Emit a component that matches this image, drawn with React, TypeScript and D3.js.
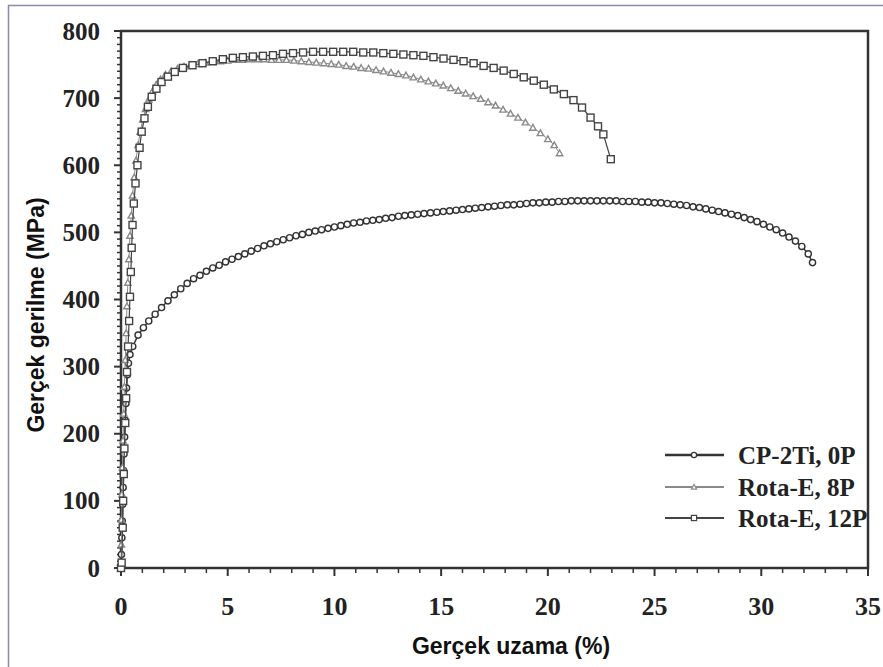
import { useEffect, useRef } from "react";
import * as d3 from "d3";

// [uzama %, gerilme MPa], one pair per marker
const cp2ti0P: [number, number][] = [
  [0, 0], [0.02, 20], [0.04, 45], [0.06, 70], [0.08, 95], [0.1, 120], [0.12, 145], [0.14, 170],
  [0.17, 195], [0.2, 220], [0.23, 245], [0.26, 268], [0.3, 288], [0.35, 305], [0.42, 318],
  [0.55, 330], [0.8, 347], [1.05, 358], [1.3, 368], [1.6, 378], [1.9, 388], [2.2, 398], [2.5, 407],
  [2.8, 416], [3.1, 424], [3.4, 431], [3.7, 436], [4.0, 442], [4.3, 447], [4.6, 451], [4.9, 456],
  [5.2, 460], [5.5, 464], [5.8, 468], [6.1, 472], [6.4, 476], [6.7, 480], [7.0, 483], [7.3, 486],
  [7.6, 489], [7.9, 492], [8.2, 495], [8.5, 497], [8.8, 500], [9.1, 502], [9.4, 504], [9.7, 506],
  [10.0, 508], [10.3, 510], [10.6, 512], [10.9, 514], [11.2, 515], [11.5, 517], [11.8, 518],
  [12.1, 519], [12.4, 521], [12.7, 522], [13.0, 524], [13.3, 525], [13.6, 526], [13.9, 527],
  [14.2, 528], [14.5, 529], [14.8, 530], [15.1, 531], [15.4, 532], [15.7, 533], [16.0, 534],
  [16.3, 535], [16.6, 536], [16.9, 537], [17.2, 538], [17.5, 539], [17.8, 540], [18.1, 541],
  [18.4, 541], [18.7, 542], [19.0, 543], [19.3, 544], [19.6, 544], [19.9, 545], [20.2, 545],
  [20.5, 546], [20.8, 546], [21.1, 547], [21.4, 547], [21.7, 547], [22.0, 547], [22.3, 547],
  [22.6, 547], [22.9, 547], [23.2, 547], [23.5, 546], [23.8, 546], [24.1, 546], [24.4, 545],
  [24.7, 545], [25.0, 544], [25.3, 544], [25.6, 543], [25.9, 542], [26.2, 541], [26.5, 540],
  [26.8, 538], [27.1, 537], [27.4, 535], [27.7, 533], [28.0, 531], [28.3, 529], [28.6, 527],
  [28.9, 525], [29.2, 522], [29.5, 519], [29.8, 516], [30.1, 512], [30.4, 508], [30.7, 504],
  [31.0, 499], [31.3, 493], [31.6, 487], [31.9, 479], [32.2, 468], [32.4, 455],
];

const rotaE8P: [number, number][] = [
  [0, 0], [0.02, 35], [0.03, 72], [0.05, 110], [0.07, 150], [0.1, 190], [0.13, 230], [0.16, 270],
  [0.2, 310], [0.24, 350], [0.28, 390], [0.32, 425], [0.37, 460], [0.42, 495], [0.48, 525],
  [0.54, 555], [0.62, 582], [0.7, 607], [0.8, 630], [0.9, 650], [1.02, 668], [1.15, 684],
  [1.3, 698], [1.47, 710], [1.65, 720], [1.85, 728], [2.08, 735], [2.35, 740], [2.65, 744],
  [2.95, 747], [3.25, 749], [3.6, 751], [3.95, 753], [4.3, 754], [4.65, 755], [5.0, 756],
  [5.35, 757], [5.7, 757], [6.05, 758], [6.4, 758], [6.7, 758], [7.05, 757],
  [7.4, 757], [7.75, 757], [8.1, 756], [8.45, 755], [8.8, 754], [9.15, 753], [9.5, 752],
  [9.85, 751], [10.2, 750], [10.55, 748], [10.9, 747], [11.25, 745], [11.6, 744], [11.95, 742],
  [12.3, 740], [12.65, 738], [13.0, 736], [13.35, 734], [13.7, 731], [14.05, 728], [14.4, 725],
  [14.75, 722], [15.1, 719], [15.45, 715], [15.8, 711], [16.15, 707], [16.5, 703], [16.85, 699],
  [17.2, 694], [17.55, 689], [17.9, 683], [18.25, 677], [18.6, 671], [18.95, 664], [19.3, 656],
  [19.65, 648], [20.0, 639], [20.3, 630], [20.55, 618],
];

const rotaE12P: [number, number][] = [
  [0, 0], [0.03, 8], [0.08, 60], [0.1, 100], [0.13, 140], [0.16, 178], [0.2, 216], [0.24, 253],
  [0.28, 292], [0.33, 330], [0.38, 368], [0.42, 404], [0.46, 441], [0.5, 477], [0.54, 511],
  [0.6, 543], [0.68, 573], [0.77, 600], [0.87, 626], [0.97, 650], [1.1, 670], [1.26, 687],
  [1.44, 702], [1.66, 714], [1.9, 724], [2.2, 732], [2.52, 739], [2.9, 745], [3.35, 749],
  [3.82, 752], [4.3, 755], [4.77, 758], [5.24, 760], [5.71, 761], [6.18, 762], [6.65, 763],
  [7.12, 764], [7.59, 766], [8.06, 767], [8.53, 768], [9.0, 769], [9.47, 769], [9.94, 769],
  [10.41, 769], [10.88, 769], [11.35, 768], [11.82, 768], [12.29, 767], [12.76, 766],
  [13.23, 765], [13.7, 764], [14.17, 763], [14.64, 761], [15.11, 759], [15.58, 757],
  [16.05, 755], [16.52, 752], [16.99, 748], [17.46, 745], [17.93, 741], [18.4, 736],
  [18.87, 731], [19.34, 726], [19.81, 720], [20.28, 713], [20.75, 706], [21.2, 697],
  [21.6, 686], [22.0, 671], [22.35, 658], [22.6, 646], [22.95, 609],
];

const seriesNames = ["CP-2Ti, 0P", "Rota-E, 8P", "Rota-E, 12P"];
const xTicks = [0, 5, 10, 15, 20, 25, 30, 35];
const yTicks = [0, 100, 200, 300, 400, 500, 600, 700, 800];

export default function App() {
  const ref = useRef<SVGSVGElement>(null);

  useEffect(() => {
    if (!ref.current) return;
    const svg = d3.select(ref.current);
    svg.selectAll("*").remove();

    const left = 121, right = 868, top = 31, bottom = 568;
    const x = d3.scaleLinear().domain([0, 35]).range([left, right]);
    const y = d3.scaleLinear().domain([0, 800]).range([bottom, top]);
    const serif = "'Liberation Serif', 'Times New Roman', serif";
    const sans = "'Liberation Sans', Arial, sans-serif";

    // outer picture frame
    svg.append("rect").attr("x", 8.5).attr("y", 5.5).attr("width", 900).attr("height", 700)
      .attr("fill", "#fff").attr("stroke", "#8c89aa").attr("stroke-width", 1.5);

    // plot box
    svg.append("rect").attr("x", left).attr("y", top).attr("width", right - left).attr("height", bottom - top)
      .attr("fill", "none").attr("stroke", "#333").attr("stroke-width", 2.5);

    // y ticks
    const yMinor = d3.range(0, 801, 10);
    svg.append("g").selectAll("line").data(yMinor).enter().append("line")
      .attr("x1", (d) => (d % 100 === 0 ? left - 7 : left - 4)).attr("x2", left)
      .attr("y1", (d) => y(d)).attr("y2", (d) => y(d))
      .attr("stroke", "#333").attr("stroke-width", (d) => (d % 100 === 0 ? 2 : 1.5));
    svg.append("g").selectAll("text").data(yTicks).enter().append("text")
      .attr("x", 100).attr("y", (d) => y(d)).attr("dy", "0.34em")
      .attr("text-anchor", "end").attr("font-family", serif).attr("font-weight", "bold")
      .attr("font-size", 25).attr("fill", "#222").text((d) => d);

    // x ticks
    const xMinor = d3.range(0, 36, 1);
    svg.append("g").selectAll("line").data(xMinor).enter().append("line")
      .attr("x1", (d) => x(d)).attr("x2", (d) => x(d))
      .attr("y1", bottom).attr("y2", (d) => (d % 5 === 0 ? bottom + 8 : bottom + 5))
      .attr("stroke", "#333").attr("stroke-width", (d) => (d % 5 === 0 ? 2 : 1.5));
    svg.append("g").selectAll("text").data(xTicks).enter().append("text")
      .attr("x", (d) => x(d)).attr("y", 615)
      .attr("text-anchor", "middle").attr("font-family", serif).attr("font-weight", "bold")
      .attr("font-size", 26).attr("fill", "#222").text((d) => d);

    // axis titles
    svg.append("text").attr("x", 511).attr("y", 654).attr("text-anchor", "middle")
      .attr("font-family", sans).attr("font-weight", "bold").attr("font-size", 23)
      .attr("fill", "#111").text("Gerçek uzama (%)");
    svg.append("text").attr("transform", "translate(44,315) rotate(-90)").attr("text-anchor", "middle")
      .attr("font-family", sans).attr("font-weight", "bold").attr("font-size", 23)
      .attr("fill", "#111").text("Gerçek gerilme (MPa)");

    const line = d3.line<[number, number]>().x((d) => x(d[0])).y((d) => y(d[1]));

    const styles = [
      { data: cp2ti0P, color: "#333", lineW: 1.5, legendW: 2.5, shape: "circle", size: 3.1 },
      { data: rotaE8P, color: "#8a8a8a", lineW: 1, legendW: 1.8, shape: "triangle", size: 3.2 },
      { data: rotaE12P, color: "#444", lineW: 1.2, legendW: 1.8, shape: "square", size: 3.5 },
    ];

    const drawMarker = (g: any, shape: string, cx: number, cy: number, s: number, color: string, sw: number) => {
      if (shape === "circle") {
        g.append("circle").attr("cx", cx).attr("cy", cy).attr("r", s)
          .attr("fill", "#fff").attr("stroke", color).attr("stroke-width", sw);
      } else if (shape === "square") {
        g.append("rect").attr("x", cx - s).attr("y", cy - s).attr("width", 2 * s).attr("height", 2 * s)
          .attr("fill", "#fff").attr("stroke", color).attr("stroke-width", sw);
      } else {
        g.append("path")
          .attr("d", `M${cx},${cy - s}L${cx + s},${cy + s * 0.8}L${cx - s},${cy + s * 0.8}Z`)
          .attr("fill", "#fff").attr("stroke", color).attr("stroke-width", sw);
      }
    };

    styles.forEach((st) => {
      const g = svg.append("g");
      g.append("path").datum(st.data).attr("d", line).attr("fill", "none")
        .attr("stroke", st.color).attr("stroke-width", st.lineW);
      st.data.forEach((d) => drawMarker(g, st.shape, x(d[0]), y(d[1]), st.size, st.color, 1.4));
    });

    // legend
    const legendY = [455, 487, 518];
    styles.forEach((st, i) => {
      const g = svg.append("g");
      g.append("line").attr("x1", 665).attr("x2", 724).attr("y1", legendY[i]).attr("y2", legendY[i])
        .attr("stroke", st.color).attr("stroke-width", st.legendW);
      drawMarker(g, st.shape, 694, legendY[i], 2.6, st.color, 1.2);
      g.append("text").attr("x", 738).attr("y", legendY[i] + 9)
        .attr("font-family", serif).attr("font-weight", "bold").attr("font-size", 25)
        .attr("fill", "#222").text(seriesNames[i]);
    });
  }, []);

  return (
    <div style={{ position: "absolute", left: 0, top: 0 }}>
      <svg ref={ref} width={883} height={667} style={{ display: "block" }} />
    </div>
  );
}
